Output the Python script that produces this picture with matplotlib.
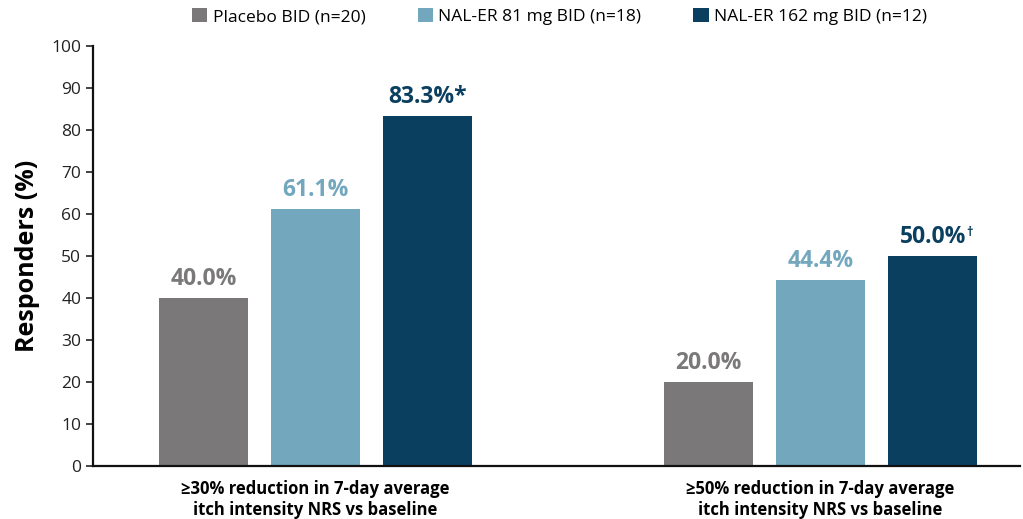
import matplotlib.pyplot as plt
import numpy as np

# =====================================================
# DATA
# =====================================================

categories = [
    "\u226530% reduction in 7-day average\nitch intensity NRS vs baseline",
    "\u226550% reduction in 7-day average\nitch intensity NRS vs baseline",
]
series_names = [
    "Placebo BID (n=20)",
    "NAL-ER 81 mg BID (n=18)",
    "NAL-ER 162 mg BID (n=12)",
]
placebo = [40.0, 20.0]
nal_81 = [61.1, 44.4]
nal_162 = [83.3, 50.0]
marks = [["", "", "*"], ["", "", "\u2020"]]

colors = ["#7a7878", "#72a7bd", "#0b3f60"]

plt.rcParams['font.family'] = ['Open Sans', 'DejaVu Sans']

# =====================================================
# PLOT
# =====================================================

fig = plt.figure(figsize=(10.23, 5.19), dpi=100)
ax = fig.add_axes([93 / 1023, 1 - 466 / 519, 927 / 1023, 420 / 519])

x = np.arange(len(categories))
offsets = [-0.222, 0.0, 0.222]
width = 0.176

for i, vals in enumerate([placebo, nal_81, nal_162]):
    bars = ax.bar(x + offsets[i], vals, width, color=colors[i],
                  label=series_names[i])
    for j, b in enumerate(bars):
        t = ax.annotate(f"{vals[j]:.1f}%" + (marks[j][i] if marks[j][i] == "*" else ""),
                        xy=(b.get_x() + b.get_width() / 2, b.get_height()),
                        xytext=(0, 5), textcoords="offset points",
                        ha="center", va="bottom", fontsize=16.5,
                        fontweight="bold", color=colors[i])
        if marks[j][i] == "\u2020":
            ax.annotate("\u2020", xy=(1, 1), xycoords=t, xytext=(0.5, -1),
                        textcoords="offset points", ha="left", va="top",
                        fontsize=9, fontweight="bold", color=colors[i])

ax.set_xlim(-0.4406, 1.395)
ax.set_ylim(0, 100)
ax.set_yticks(np.arange(0, 101, 10))
ax.tick_params(axis="y", labelsize=12.5, length=5, width=1.2, colors="#222222")
ax.set_xticks(x)
ax.set_xticklabels(categories, fontsize=12, fontweight="bold")
ax.tick_params(axis="x", length=0, pad=10)

for s in ["top", "right"]:
    ax.spines[s].set_visible(False)
for s in ["left", "bottom"]:
    ax.spines[s].set_linewidth(1.6)
    ax.spines[s].set_color("#111111")

ax.set_ylabel("Responders (%)", fontsize=18, fontweight="bold", labelpad=8)

fig.legend(loc="upper center", bbox_to_anchor=(0.547, 1.015), ncol=3,
           frameon=False, fontsize=12.5, handlelength=0.9, handleheight=0.9,
           handletextpad=0.3, columnspacing=3.0)

plt.savefig("out.png", dpi=100)
plt.close()
